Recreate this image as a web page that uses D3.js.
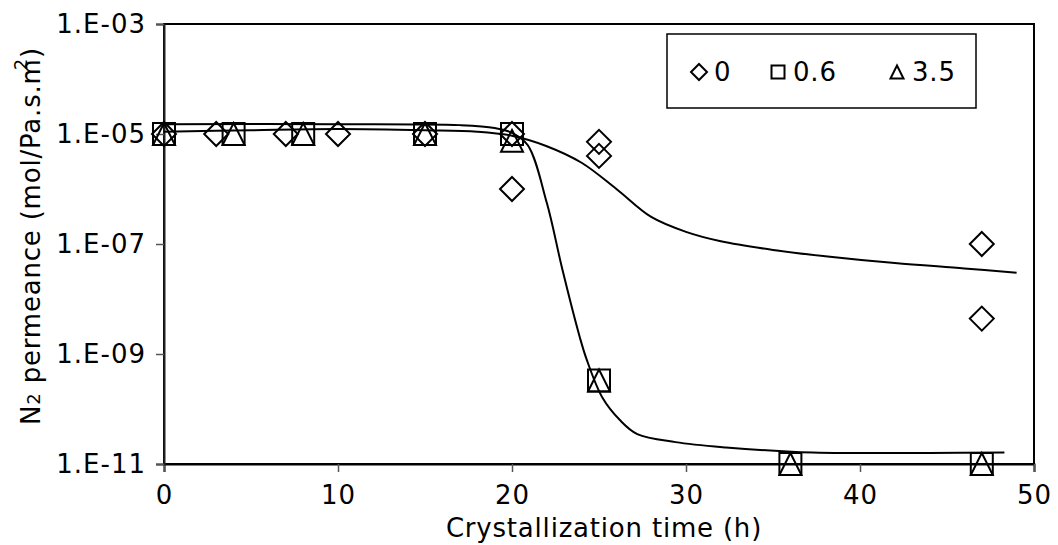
<!DOCTYPE html>
<meta charset="utf-8">

<!-- Load d3.js -->
<script src="https://d3js.org/d3.v7.min.js"></script>

<style>
  body { margin: 0; background: #fff; }
  text { font-family: "DejaVu Sans", Verdana, sans-serif; }
</style>

<svg id="chart" width="1058" height="545"></svg>

<script>

// measured points, one pair of arrays per seed loading
const time0 = [0, 3, 7, 10, 15, 20, 20, 25, 25, 47, 47]
const perm0 = [1e-5, 1e-5, 1e-5, 1e-5, 1e-5, 1e-5, 1e-6, 7.2e-6, 4e-6, 1e-7, 4.4e-9]

const time06 = [0, 4, 8, 15, 20, 25, 36, 47]
const perm06 = [1e-5, 1e-5, 1e-5, 1e-5, 1e-5, 3.3e-10, 1e-11, 1e-11]

const time35 = [0, 4, 8, 15, 20, 25, 36, 47]
const perm35 = [1e-5, 1e-5, 1e-5, 1e-5, 7.5e-6, 3.3e-10, 1e-11, 1e-11]

// the two trend curves
const fitTimeA = [0, 5, 10, 15, 18, 20, 22, 24, 26, 28, 30, 32, 35, 38, 42, 46, 49]
const fitPermA = [1.1e-5, 1.17e-5, 1.23e-5, 1.17e-5, 1.1e-5, 9.3e-6, 6.0e-6, 3.0e-6, 1.0e-6, 3.1e-7,
                  1.66e-7, 1.12e-7, 7.8e-8, 6.0e-8, 4.5e-8, 3.6e-8, 3.0e-8]

const fitTimeB = [0, 10, 17, 19, 20, 20.9, 22, 22.9, 23.9, 24.3, 25.2, 26.2, 27.2, 29.4, 32.3, 36.3, 40, 44, 48.3]
const fitPermB = [1.51e-5, 1.51e-5, 1.45e-5, 1.29e-5, 1.05e-5, 6.3e-6, 5.6e-7, 3.4e-8, 2.0e-9, 7.8e-10,
                  1.6e-10, 6.3e-11, 3.5e-11, 2.5e-11, 2.0e-11, 1.66e-11, 1.58e-11, 1.58e-11, 1.62e-11]

// axes
const xTicks = [0, 10, 20, 30, 40, 50]
const yTicks = [1e-3, 1e-5, 1e-7, 1e-9, 1e-11]
const yTickLabels = ["1.E-03", "1.E-05", "1.E-07", "1.E-09", "1.E-11"]
const legendNames = ["0", "0.6", "3.5"]

const svg = d3.select("#chart")

const x = d3.scaleLinear().domain([0, 50]).range([164, 1034])
const y = d3.scaleLog().domain([1e-11, 1e-3]).range([464, 24])

// marker shapes (open diamond, square, triangle)
const diamond = { draw(ctx, size) {
  const r = Math.sqrt(size) / 2
  ctx.moveTo(0, -r); ctx.lineTo(r, 0); ctx.lineTo(0, r); ctx.lineTo(-r, 0); ctx.closePath()
}}
const square = { draw(ctx, size) {
  const r = Math.sqrt(size) / 2
  ctx.rect(-r, -r, 2 * r, 2 * r)
}}
const triangle = { draw(ctx, size) {
  const r = Math.sqrt(size) / 2
  ctx.moveTo(0, -r); ctx.lineTo(r, r); ctx.lineTo(-r, r); ctx.closePath()
}}

const series = [
  { name: legendNames[0], t: time0, p: perm0, shape: diamond, size: 24 * 24 },
  { name: legendNames[1], t: time06, p: perm06, shape: square, size: 22 * 22 },
  { name: legendNames[2], t: time35, p: perm35, shape: triangle, size: 22 * 22 }
]

// plot frame
svg.append("rect")
    .attr("x", x(0))
    .attr("y", y(1e-3))
    .attr("width", x(50) - x(0))
    .attr("height", y(1e-11) - y(1e-3))
    .attr("fill", "none")
    .attr("stroke", "#000")
    .attr("stroke-width", 2)

// x axis
const xAxis = svg.append("g")
    .attr("transform", `translate(0,${y(1e-11)})`)
    .call(d3.axisBottom(x).tickValues(xTicks).tickSize(8).tickPadding(14).tickFormat(d3.format("d")))
xAxis.select(".domain").attr("stroke", "#000").attr("stroke-width", 2)
xAxis.selectAll(".tick line").attr("stroke", "#555").attr("stroke-width", 1.5)
xAxis.selectAll("text").style("font-size", "26px").style("letter-spacing", "1px").attr("fill", "#000")

// y axis
const yAxis = svg.append("g")
    .attr("transform", `translate(${x(0)},0)`)
    .call(d3.axisLeft(y).tickValues(yTicks).tickSize(8).tickPadding(10)
      .tickFormat((d, i) => yTickLabels[i]))
yAxis.select(".domain").attr("stroke", "#222").attr("stroke-width", 2)
yAxis.selectAll(".tick line").attr("stroke", "#555").attr("stroke-width", 1.5)
yAxis.selectAll("text").style("font-size", "26px").style("letter-spacing", "1px").attr("fill", "#000")

// trend curves
const line = d3.line()
    .x(d => x(d[0]))
    .y(d => y(d[1]))
    .curve(d3.curveCatmullRom.alpha(0.5))

svg.append("path")
    .attr("d", line(d3.zip(fitTimeA, fitPermA)))
    .attr("fill", "none")
    .attr("stroke", "#000")
    .attr("stroke-width", 2)

svg.append("path")
    .attr("d", line(d3.zip(fitTimeB, fitPermB)))
    .attr("fill", "none")
    .attr("stroke", "#000")
    .attr("stroke-width", 2)

// markers
series.forEach(s => {
  svg.append("g")
    .selectAll("path")
    .data(d3.zip(s.t, s.p))
    .join("path")
      .attr("transform", d => `translate(${x(d[0])},${y(d[1])})`)
      .attr("d", d3.symbol(s.shape, s.size))
      .attr("fill", "none")
      .attr("stroke", "#000")
      .attr("stroke-width", 2)
})

// axis titles
svg.append("text")
    .attr("x", 604)
    .attr("y", 537)
    .attr("text-anchor", "middle")
    .style("font-size", "26px")
    .style("letter-spacing", "0.8px")
    .text("Crystallization time (h)")

const yTitle = svg.append("text")
    .attr("transform", "translate(40,236) rotate(-90)")
    .attr("text-anchor", "middle")
    .style("font-size", "26px")
    .style("letter-spacing", "0.8px")
yTitle.append("tspan").text("N")
yTitle.append("tspan").style("font-size", "18px").text("2")
yTitle.append("tspan").text(" permeance (mol/Pa.s.m")
yTitle.append("tspan").style("font-size", "18px").attr("dx", -12).attr("dy", -13).text("2")
yTitle.append("tspan").attr("dy", 13).text(")")

// legend
svg.append("rect")
    .attr("x", 667)
    .attr("y", 34)
    .attr("width", 309)
    .attr("height", 74)
    .attr("fill", "#fff")
    .attr("stroke", "#000")
    .attr("stroke-width", 1.5)

const legendX = [699, 778, 897]
series.forEach((s, i) => {
  svg.append("path")
      .attr("transform", `translate(${legendX[i]},72)`)
      .attr("d", d3.symbol(s.shape, s.shape === diamond ? 16 * 16 : 13 * 13))
      .attr("fill", "none")
      .attr("stroke", "#000")
      .attr("stroke-width", 2)
  svg.append("text")
      .attr("x", legendX[i] + 15)
      .attr("y", 72)
      .attr("dy", "0.36em")
      .style("font-size", "26px")
      .style("letter-spacing", "0.8px")
      .text(s.name)
})

</script>
